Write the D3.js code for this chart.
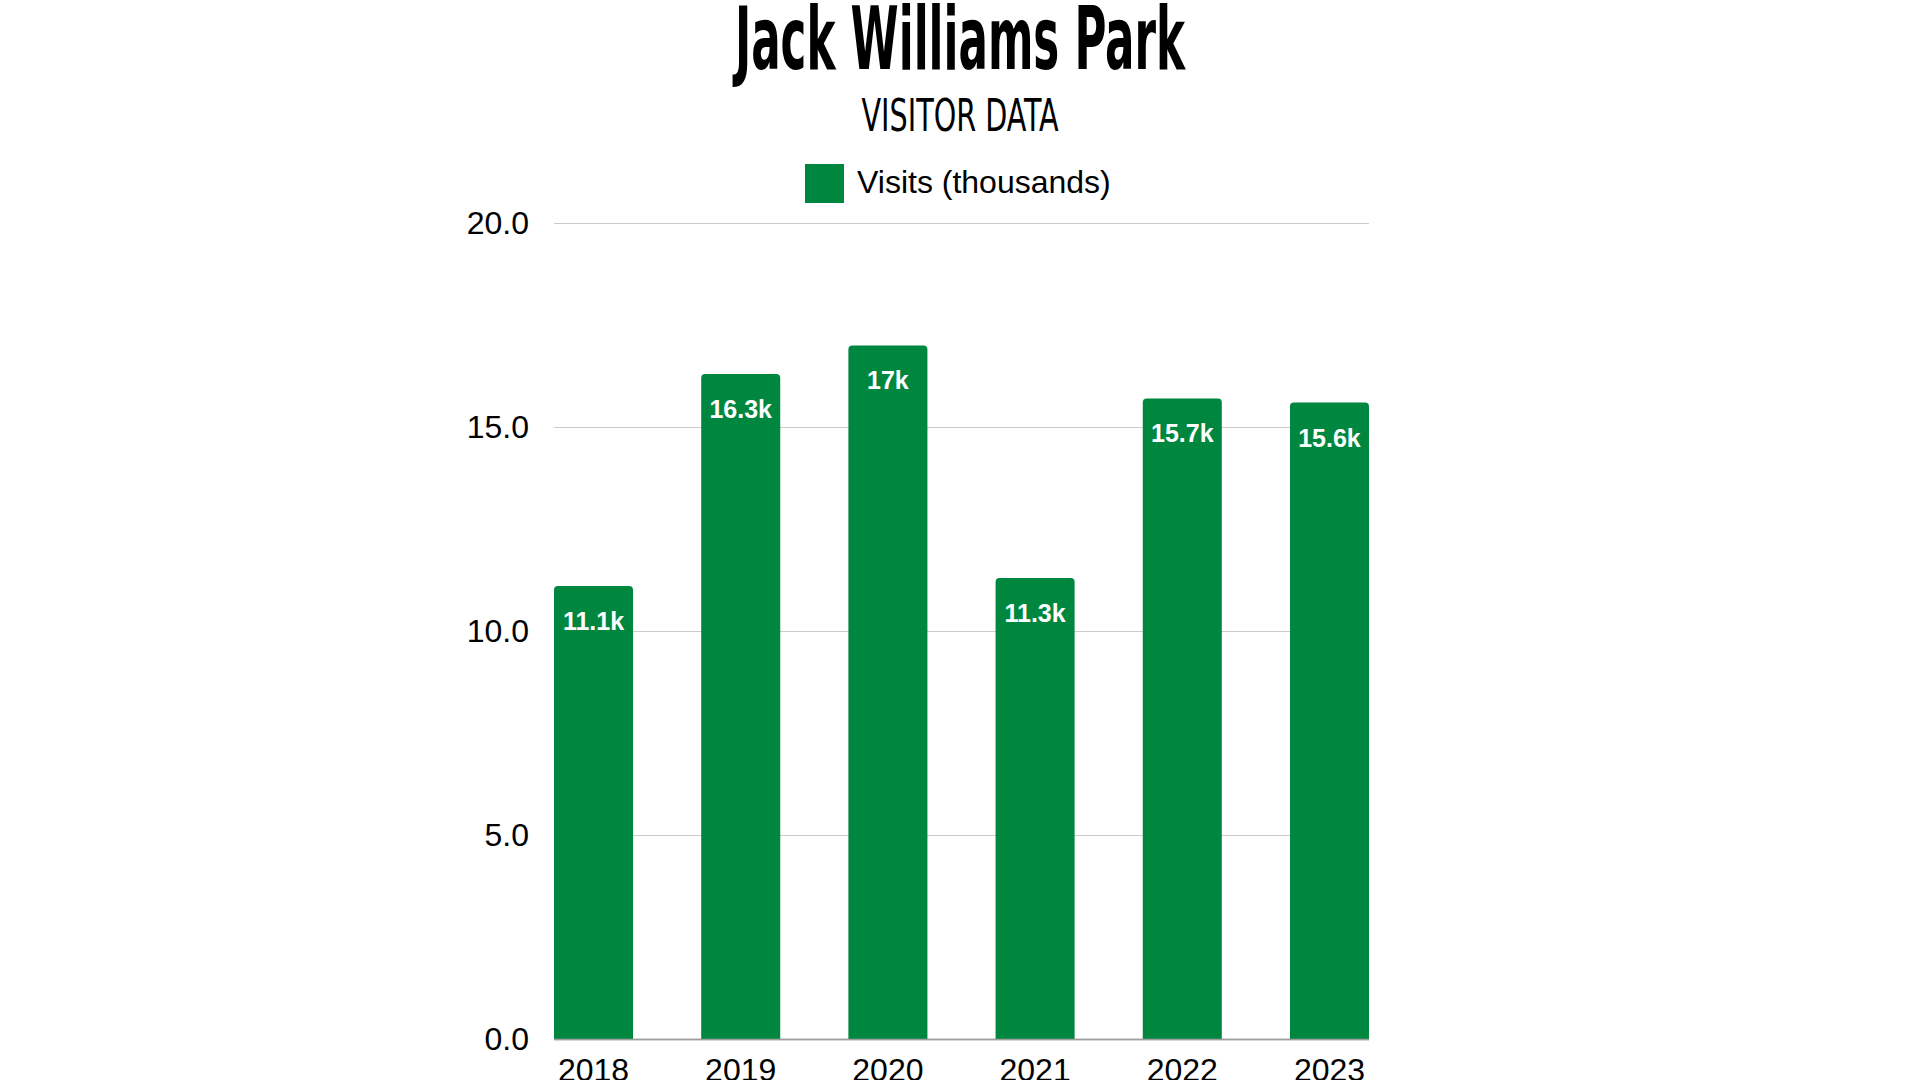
<!DOCTYPE html>
<html>
<head>
<meta charset="utf-8">
<script src="https://cdn.jsdelivr.net/npm/d3@7"></script>
<style>
  html, body { margin: 0; padding: 0; background: #fff; }
  svg { display: block; }
</style>
</head>
<body>
<svg id="chart"></svg>
<script>
const years = ["2018", "2019", "2020", "2021", "2022", "2023"];
const visits = [11.1, 16.3, 17, 11.3, 15.7, 15.6];
const barLabels = ["11.1k", "16.3k", "17k", "11.3k", "15.7k", "15.6k"];
const yTicks = [0, 5, 10, 15, 20];
const seriesName = "Visits (thousands)";

const width = 1920;
const height = 1080;
const green = "#00873f";

const svg = d3.select("#chart")
  .attr("width", width)
  .attr("height", height);

// titles
svg.append("text")
  .attr("x", 960)
  .attr("y", 69)
  .attr("text-anchor", "middle")
  .attr("font-family", "DejaVu Sans Condensed, DejaVu Sans")
  .attr("font-weight", "bold")
  .attr("font-size", 88)
  .attr("textLength", 450)
  .attr("lengthAdjust", "spacingAndGlyphs")
  .attr("fill", "#000")
  .text("Jack Williams Park");

svg.append("text")
  .attr("x", 960)
  .attr("y", 131)
  .attr("text-anchor", "middle")
  .attr("font-family", "DejaVu Sans Condensed, DejaVu Sans")
  .attr("font-size", 44)
  .attr("textLength", 197)
  .attr("lengthAdjust", "spacingAndGlyphs")
  .attr("fill", "#000")
  .text("VISITOR DATA");

// legend
const legend = svg.append("g").attr("transform", "translate(805,164)");
legend.append("rect")
  .attr("width", 39)
  .attr("height", 39)
  .attr("fill", green);
legend.append("text")
  .attr("x", 52)
  .attr("y", 29)
  .attr("font-family", "Liberation Sans, Arial, sans-serif")
  .attr("font-size", 32)
  .attr("fill", "#000")
  .text(seriesName);

// scales
const x = d3.scaleBand()
  .domain(years)
  .range([554, 1369])
  .paddingInner(0.463)
  .paddingOuter(0);

const y = d3.scaleLinear()
  .domain([0, 20])
  .range([1039, 223]);

// gridlines
svg.append("g")
  .selectAll("line")
  .data(yTicks)
  .enter()
  .append("line")
  .attr("x1", 554)
  .attr("x2", 1369)
  .attr("y1", (d) => y(d) + 0.5)
  .attr("y2", (d) => y(d) + 0.5)
  .attr("stroke", (d) => (d === 0 ? "#9e9e9e" : "#cccccc"))
  .attr("stroke-width", (d) => (d === 0 ? 1.5 : 1));

// y axis labels
const yAxis = d3.axisLeft(y)
  .tickValues(yTicks)
  .tickFormat(d3.format(".1f"))
  .tickSize(0)
  .tickPadding(0);

svg.append("g")
  .attr("transform", "translate(529,0)")
  .call(yAxis)
  .call((g) => g.select(".domain").remove())
  .selectAll("text")
  .attr("font-family", "Liberation Sans, Arial, sans-serif")
  .attr("font-size", 32)
  .attr("fill", "#000");

// bars with rounded tops
const r = 4;
const barPath = (d, i) => {
  const x0 = x(years[i]);
  const x1 = x0 + x.bandwidth();
  const y0 = y(0);
  const y1 = y(d);
  return `M${x0},${y0}V${y1 + r}Q${x0},${y1} ${x0 + r},${y1}H${x1 - r}Q${x1},${y1} ${x1},${y1 + r}V${y0}Z`;
};

svg.append("g")
  .selectAll("path")
  .data(visits)
  .enter()
  .append("path")
  .attr("d", barPath)
  .attr("fill", green);

// baseline over bars
svg.append("line")
  .attr("x1", 554)
  .attr("x2", 1369)
  .attr("y1", y(0) + 0.5)
  .attr("y2", y(0) + 0.5)
  .attr("stroke", "#9e9e9e")
  .attr("stroke-width", 1.5);

// value labels
svg.append("g")
  .selectAll("text")
  .data(visits)
  .enter()
  .append("text")
  .attr("x", (_, i) => x(years[i]) + x.bandwidth() / 2)
  .attr("y", (d) => y(d) + 44)
  .attr("text-anchor", "middle")
  .attr("font-family", "Liberation Sans, Arial, sans-serif")
  .attr("font-weight", "bold")
  .attr("font-size", 25)
  .attr("fill", "#fff")
  .text((_, i) => barLabels[i]);

// x axis labels
const xAxis = d3.axisBottom(x).tickSize(0).tickPadding(0);
svg.append("g")
  .attr("transform", "translate(0,1050)")
  .call(xAxis)
  .call((g) => g.select(".domain").remove())
  .selectAll("text")
  .attr("dy", "0.71em")
  .attr("y", 8)
  .attr("font-family", "Liberation Sans, Arial, sans-serif")
  .attr("font-size", 32)
  .attr("fill", "#000");
</script>
</body>
</html>
